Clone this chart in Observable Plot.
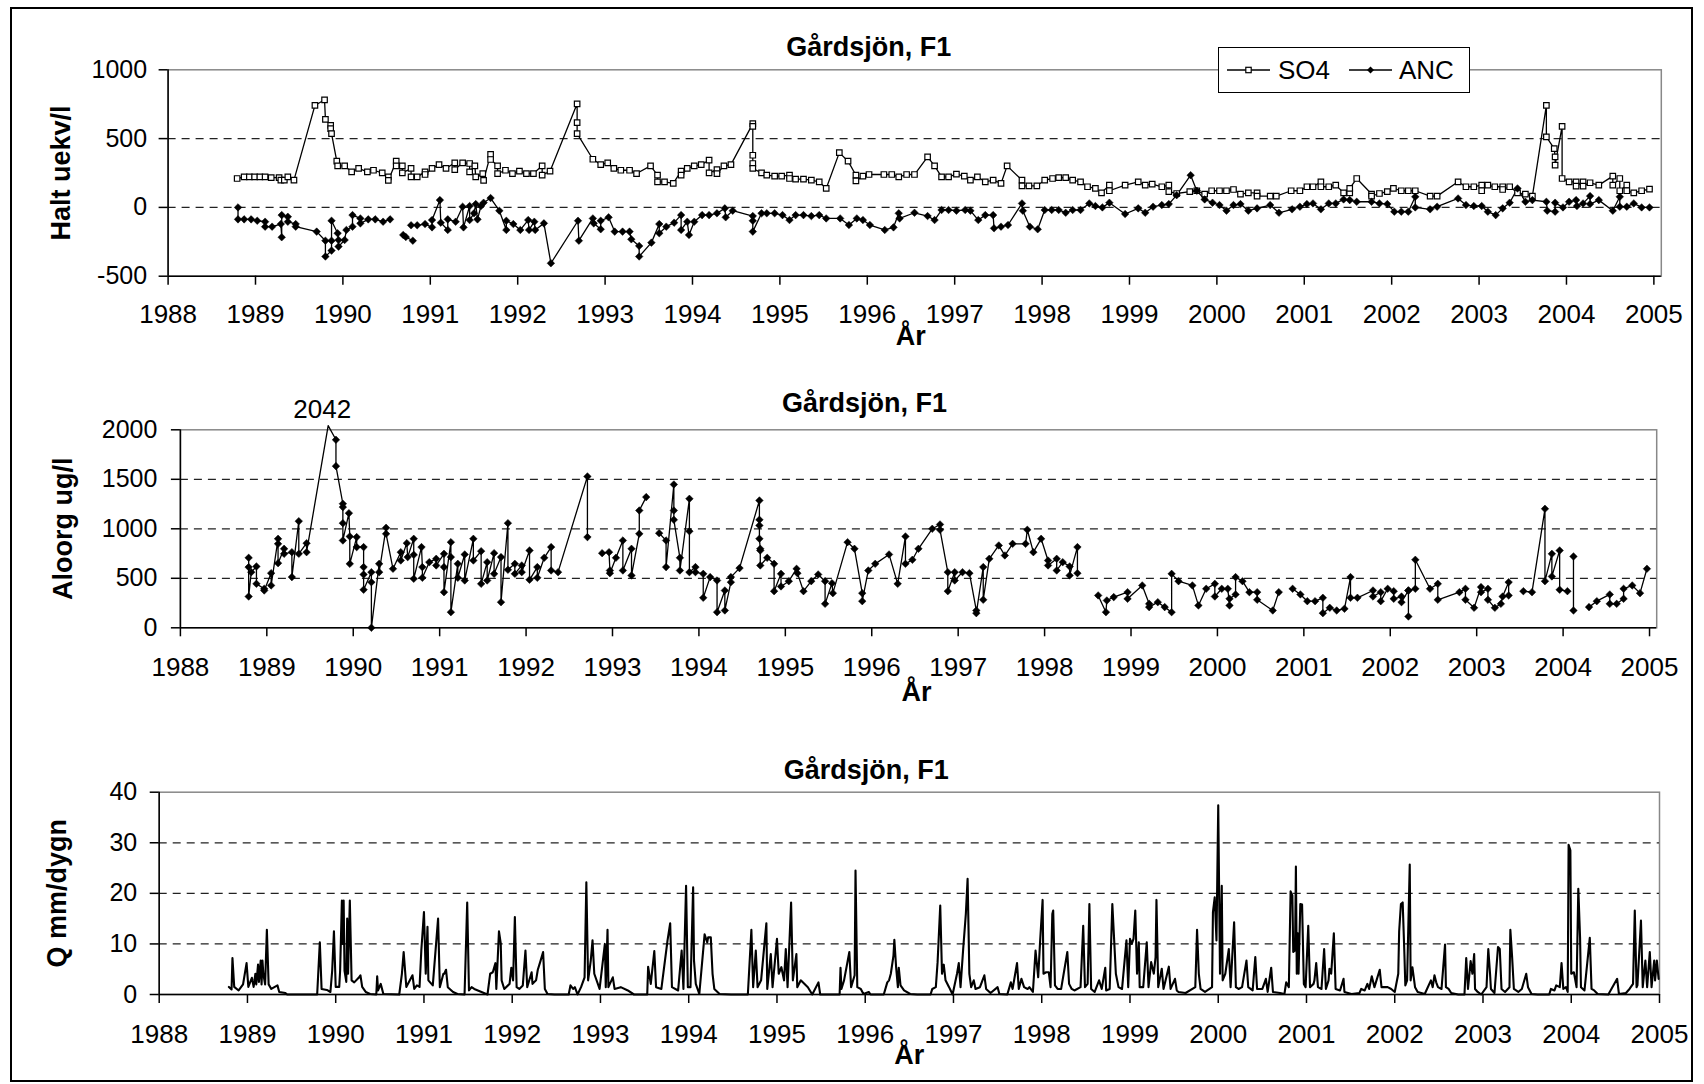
<!DOCTYPE html>
<html><head><meta charset="utf-8">
<script src="https://cdn.jsdelivr.net/npm/d3@7"></script>
<script src="https://cdn.jsdelivr.net/npm/@observablehq/plot@0.6"></script>
<style>
body{margin:0;background:#fff;}
#chart{position:relative;width:1704px;height:1084px;font-family:"Liberation Sans",Arial,sans-serif;background:#fff;overflow:hidden}
#chart svg.panel{position:absolute;left:0;overflow:visible;background:transparent;max-width:none}
#outer{position:absolute;left:10px;top:7px;width:1683px;height:1075px;border:2.5px solid #000;box-sizing:border-box;pointer-events:none}
#legend{position:absolute;left:1218px;top:47px;width:252px;height:46px;border:1.5px solid #000;background:#fff;box-sizing:border-box}
</style></head>
<body>
<div id="chart"><div id="outer"></div></div>
<script>
// ---------- data ----------
const years = d3.range(1988, 2006);
const panelTitle = "Gårdsjön, F1";
const xLabel = "År";
const yLabels = ["Halt uekv/l", "Aloorg ug/l", "Q mm/dygn"];
const legendLabels = ["SO4", "ANC"];
const ticksHalt = [-500, 0, 500, 1000];
const ticksAl = [0, 500, 1000, 1500, 2000];
const ticksQ = [0, 10, 20, 30, 40];

const so4 = [[1988.79,210],[1988.87,222],[1988.93,222],[1988.99,222],[1989.05,222],[1989.11,222],[1989.18,217],[1989.27,217],[1989.29,198],[1989.33,198],[1989.37,222],[1989.44,198],
[1989.68,741],[1989.79,782],[1989.80,640],[1989.86,596],[1989.86,572],[1989.87,536],[1989.93,336],[1989.94,302],[1990.02,302],[1990.10,258],[1990.18,283],[1990.28,258],[1990.35,270],[1990.45,251],[1990.52,222],[1990.52,196],[1990.61,336],[1990.61,302],[1990.68,302],[1990.68,251],[1990.78,283],[1990.78,222],[1990.85,222],[1990.94,258],[1990.94,239],[1991.02,283],[1991.10,311],[1991.18,283],[1991.28,324],[1991.28,275],[1991.37,324],[1991.45,319],[1991.45,258],[1991.51,302],[1991.52,222],[1991.60,246],[1991.61,196],[1991.69,386],[1991.69,348],[1991.77,302],[1991.77,246],[1991.86,270],[1991.94,246],[1992.02,263],[1992.10,246],[1992.18,246],[1992.28,302],[1992.28,234],[1992.37,263],
[1992.68,753],[1992.68,616],[1992.68,536],[1992.86,350],[1992.95,311],[1993.03,324],[1993.10,283],[1993.18,270],[1993.28,270],[1993.36,246],[1993.52,302],[1993.60,234],[1993.60,186],[1993.68,186],[1993.78,174],[1993.87,263],[1993.87,234],[1993.94,283],[1994.02,302],[1994.10,311],[1994.19,343],[1994.19,251],[1994.28,275],[1994.28,246],[1994.36,302],[1994.44,311],
[1994.69,609],[1994.69,589],[1994.69,379],[1994.69,319],[1994.69,283],[1994.79,251],[1994.85,234],[1994.94,227],[1995.02,227],[1995.11,234],[1995.11,210],[1995.18,205],[1995.27,205],[1995.36,198],[1995.45,186],[1995.53,138],[1995.68,398],[1995.78,336],[1995.87,234],[1995.87,193],[1995.95,227],[1996.02,239],[1996.19,239],[1996.28,239],[1996.36,222],[1996.45,239],[1996.54,239],[1996.69,367],[1996.77,302],[1996.85,222],[1996.93,222],[1997.02,242],[1997.11,227],[1997.18,198],[1997.26,222],[1997.35,186],[1997.44,198],[1997.53,174],[1997.60,302],[1997.77,198],[1997.77,157],[1997.85,157],[1997.94,157],[1998.03,198],[1998.12,210],[1998.19,217],[1998.27,217],[1998.35,198],[1998.44,186],[1998.52,150],[1998.61,138],[1998.68,106],[1998.77,162],[1998.77,121],[1998.95,162],[1999.10,186],[1999.18,162],[1999.26,169],[1999.37,150],[1999.45,162],[1999.45,114],[1999.54,101],[1999.69,114],[1999.77,121],[1999.86,97],[1999.94,121],[2000.03,121],[2000.11,121],[2000.19,130],[2000.27,97],[2000.36,106],[2000.46,106],[2000.46,82],[2000.61,82],[2000.68,82],[2000.85,121],[2000.95,121],[2001.03,150],[2001.10,150],[2001.19,186],[2001.19,150],[2001.28,150],[2001.36,162],[2001.45,106],[2001.52,106],[2001.52,138],[2001.60,210],[2001.77,97],[2001.77,82],[2001.86,101],[2001.95,114],[2002.02,138],[2002.11,121],[2002.19,121],[2002.27,121],[2002.44,82],[2002.52,82],[2002.76,186],[2002.85,150],[2002.94,150],[2003.03,162],[2003.03,121],[2003.10,162],[2003.18,150],[2003.27,150],[2003.27,130],[2003.35,150],[2003.44,106],[2003.53,97],[2003.61,82],[2003.77,741],[2003.77,512],[2003.86,427],[2003.87,367],[2003.87,307],[2003.95,589],[2003.95,210],[2004.03,186],[2004.11,186],[2004.11,155],[2004.19,186],[2004.19,155],[2004.27,179],[2004.37,162],[2004.53,227],[2004.53,162],[2004.61,210],[2004.61,121],[2004.69,162],[2004.69,121],[2004.77,106],[2004.86,121],[2004.95,133]];

const anc = [[1988.80,0],[1988.80,-87],[1988.87,-87],[1988.95,-87],[1989.02,-97],[1989.11,-104],[1989.11,-140],[1989.19,-140],[1989.29,-121],[1989.30,-217],[1989.30,-56],[1989.37,-68],[1989.37,-104],[1989.46,-121],[1989.46,-140],[1989.70,-176],[1989.80,-242],[1989.80,-357],[1989.87,-314],[1989.87,-242],[1989.87,-97],[1989.94,-188],[1989.95,-237],[1989.95,-285],[1990.02,-237],[1990.04,-164],[1990.11,-140],[1990.11,-56],[1990.20,-80],[1990.20,-116],[1990.29,-87],[1990.37,-87],[1990.46,-104],[1990.54,-87],null,
[1990.69,-200],[1990.72,-215],[1990.80,-242],null,[1990.78,-130],[1990.85,-130],[1990.94,-121],[1991.02,-145],[1991.02,-92],[1991.11,53],[1991.12,-111],[1991.20,-164],[1991.20,-87],[1991.29,-104],[1991.37,5],[1991.38,-145],[1991.45,10],[1991.45,-92],[1991.50,-43],[1991.52,24],[1991.54,-87],[1991.58,10],[1991.61,34],[1991.69,68],[1991.79,-24],[1991.87,-164],[1991.87,-97],[1991.95,-121],[1992.03,-164],[1992.12,-92],[1992.13,-164],[1992.19,-104],[1992.20,-164],[1992.30,-116],[1992.38,-406],[1992.69,-97],[1992.70,-242],[1992.86,-80],[1992.87,-116],[1992.95,-159],[1992.95,-97],[1993.04,-72],[1993.11,-176],[1993.20,-176],[1993.28,-176],[1993.30,-232],[1993.39,-280],[1993.39,-357],[1993.53,-256],[1993.62,-121],[1993.62,-188],[1993.70,-140],[1993.79,-111],[1993.87,-56],[1993.87,-164],[1993.94,-104],[1993.96,-200],[1994.02,-104],[1994.11,-56],[1994.19,-56],[1994.28,-43],[1994.37,-7],[1994.38,-72],[1994.46,-24],[1994.69,-63],[1994.69,-97],[1994.69,-176],[1994.79,-43],[1994.85,-43],[1994.94,-43],[1995.03,-56],[1995.11,-92],[1995.18,-56],[1995.27,-56],[1995.36,-63],[1995.45,-56],[1995.53,-80],[1995.69,-80],[1995.79,-128],[1995.88,-80],[1995.95,-92],[1996.03,-128],[1996.20,-164],[1996.30,-145],[1996.36,-43],[1996.37,-80],[1996.54,-39],[1996.69,-63],[1996.77,-92],[1996.85,-19],[1996.93,-19],[1997.02,-24],[1997.12,-19],[1997.18,-24],[1997.27,-92],[1997.35,-56],[1997.44,-56],[1997.45,-152],[1997.53,-140],[1997.61,-128],[1997.77,29],[1997.78,-24],[1997.86,-140],[1997.95,-159],[1998.03,-19],[1998.11,-19],[1998.19,-19],[1998.27,-39],[1998.35,-19],[1998.44,-19],[1998.54,29],[1998.61,10],[1998.69,0],[1998.77,34],[1998.95,-48],[1999.10,-7],[1999.18,-39],[1999.27,5],
[1999.37,17],[1999.45,24],[1999.54,89],[1999.70,234],[1999.77,121],[1999.86,58],[1999.95,34],[2000.03,17],[2000.11,-24],[2000.19,17],[2000.27,24],[2000.36,-24],[2000.46,-7],[2000.61,17],[2000.71,-39],[2000.86,-14],[2000.95,5],[2001.03,24],[2001.10,29],[2001.19,-14],[2001.28,29],[2001.36,29],[2001.45,58],[2001.52,53],[2001.60,41],[2001.77,41],[2001.86,29],[2001.95,24],[2002.03,-31],[2002.11,-31],[2002.19,-31],[2002.27,77],[2002.27,0],[2002.44,-14],[2002.52,5],[2002.76,65],[2002.85,17],[2002.94,10],[2003.03,10],[2003.10,-31],[2003.19,-56],[2003.27,-7],[2003.35,34],[2003.44,138],[2003.53,41],[2003.61,53],[2003.77,41],[2003.78,-24],[2003.87,-31],[2003.87,34],[2003.96,0],[2004.03,41],[2004.11,53],[2004.12,10],[2004.19,29],[2004.27,82],[2004.27,24],[2004.37,53],[2004.53,-24],[2004.61,77],[2004.61,5],[2004.69,5],[2004.77,29],[2004.86,0],[2004.95,0]];

const aloorg = [[1988.79,707],[1988.79,613],[1988.79,316],[1988.82,562],[1988.88,620],[1988.88,444],[1988.97,394],[1988.97,377],[1989.05,552],[1989.05,428],[1989.13,899],[1989.13,848],[1989.13,653],[1989.20,798],[1989.20,747],[1989.29,764],[1989.29,512],[1989.37,1077],[1989.37,747],[1989.46,855],[1989.46,764],[1989.71,2042],[1989.80,1899],[1989.80,1633],[1989.88,1253],[1989.88,1219],[1989.88,1057],[1989.88,882],[1989.95,1158],[1989.96,923],[1989.96,646],[1990.04,916],[1990.04,815],[1990.12,815],[1990.12,613],[1990.12,539],[1990.12,384],[1990.21,562],[1990.21,461],[1990.21,0],[1990.30,646],[1990.30,562],[1990.38,1010],[1990.38,949],[1990.46,596],[1990.55,764],[1990.55,680],[1990.62,855],[1990.63,714],[1990.70,899],[1990.70,737],[1990.70,495],[1990.79,815],[1990.80,613],[1990.80,505],[1990.88,663],[1990.96,697],[1990.96,630],[1991.05,747],[1991.05,613],[1991.05,360],[1991.13,865],[1991.13,714],[1991.13,158],[1991.21,646],[1991.21,505],[1991.29,741],[1991.29,478],[1991.39,899],[1991.39,680],[1991.48,774],[1991.48,444],[1991.55,663],[1991.55,478],[1991.63,754],[1991.63,545],[1991.71,714],[1991.71,259],[1991.79,1057],[1991.79,586],[1991.87,646],[1991.87,545],[1991.95,630],[1991.95,562],[1992.04,781],[1992.04,485],[1992.13,613],[1992.13,505],[1992.21,707],[1992.29,815],[1992.29,579],[1992.37,562],
[1992.71,1529],[1992.71,916],null,[1992.88,754],[1992.96,764],[1992.97,579],[1992.97,552],[1993.04,707],[1993.12,882],[1993.12,579],[1993.22,798],[1993.22,529],[1993.31,949],[1993.31,1185],[1993.39,1320],null,[1993.54,956],[1993.62,882],[1993.62,613],[1993.71,1448],[1993.71,1185],[1993.71,1091],[1993.78,707],[1993.78,579],[1993.89,1303],[1993.89,976],[1993.89,562],[1993.96,613],[1993.96,562],[1994.05,545],[1994.05,303],[1994.13,512],[1994.21,478],[1994.21,158],[1994.30,377],[1994.30,175],[1994.37,461],[1994.37,512],[1994.47,603],[1994.70,1286],[1994.70,1091],[1994.70,1034],[1994.70,899],[1994.71,798],[1994.71,781],[1994.71,630],[1994.79,707],[1994.87,646],[1994.87,370],[1994.95,545],[1994.95,418],[1995.04,471],[1995.13,596],[1995.14,552],[1995.21,370],[1995.30,471],[1995.38,539],[1995.46,471],[1995.46,242],[1995.54,451],[1995.55,350],[1995.72,865],[1995.80,798],[1995.89,350],[1995.89,269],[1995.96,579],[1996.04,646],[1996.20,741],[1996.30,444],[1996.39,923],[1996.39,646],[1996.47,687],[1996.54,798],[1996.70,1000],[1996.79,1044],[1996.79,990],[1996.88,562],[1996.88,370],[1996.96,562],[1996.96,478],[1997.05,562],[1997.13,552],[1997.21,175],[1997.21,148],[1997.29,613],[1997.29,283],[1997.36,697],[1997.47,832],[1997.54,731],[1997.63,848],[1997.78,848],[1997.80,990],[1997.87,764],[1997.96,899],[1998.04,680],[1998.04,630],[1998.14,697],[1998.14,579],[1998.21,663],[1998.29,620],[1998.29,529],[1998.38,815],[1998.38,552],null,
[1998.62,327],[1998.71,158],[1998.72,276],[1998.80,310],[1998.96,360],[1998.96,293],[1999.13,428],[1999.21,242],[1999.21,209],[1999.31,259],[1999.39,209],[1999.47,158],[1999.47,545],[1999.55,471],[1999.71,428],[1999.78,226],[1999.87,394],[1999.97,444],[1999.97,316],[2000.05,394],[2000.12,394],[2000.14,226],[2000.14,293],[2000.21,337],[2000.21,512],[2000.29,471],[2000.37,360],[2000.46,360],[2000.46,283],[2000.64,175],[2000.71,360],null,
[2000.87,394],[2000.96,337],[2001.04,269],[2001.13,269],[2001.22,303],[2001.22,148],[2001.30,202],[2001.38,175],[2001.47,192],[2001.54,512],[2001.54,303],[2001.62,303],[2001.80,377],[2001.80,316],[2001.89,360],[2001.89,269],[2001.97,394],[2002.04,370],[2002.04,293],[2002.13,316],[2002.13,259],[2002.21,377],[2002.21,114],[2002.21,377],[2002.29,394],[2002.29,687],[2002.46,394],[2002.55,444],[2002.55,283],[2002.80,360],[2002.87,394],[2002.87,283],[2002.97,202],[2003.05,411],[2003.05,360],[2003.13,394],[2003.13,283],[2003.21,202],[2003.28,242],[2003.30,316],[2003.37,461],[2003.37,327],null,
[2003.54,370],[2003.64,360],[2003.79,1202],[2003.79,471],[2003.87,747],[2003.87,519],[2003.96,781],[2003.96,384],[2004.05,370],null,[2004.12,721],[2004.12,175],null,
[2004.30,209],[2004.39,269],[2004.54,337],[2004.54,242],[2004.62,242],[2004.70,293],[2004.70,394],[2004.80,428],[2004.89,350],[2004.97,596]];

const qFlow = [[1988.79,1.5],[1988.82,1.0],[1988.83,7.2],[1988.85,1.5],[1988.90,0.8],[1988.95,2.0],[1988.99,6.2],[1989.01,1.5],[1989.05,3.3],[1989.07,1.5],[1989.09,4.1],[1989.10,2.0],[1989.12,5.9],[1989.13,2.5],[1989.15,6.7],[1989.16,2.0],[1989.17,6.7],[1989.18,4.1],[1989.20,2.0],[1989.22,12.8],[1989.24,2.0],[1989.27,1.1],[1989.34,1.8],[1989.36,0.5],[1989.43,0.3],[1989.45,0],[1989.79,0],[1989.82,10.3],[1989.84,1.1],[1989.90,0.9],[1989.94,0.5],[1989.96,4.7],[1989.98,12.5],[1990.00,1.5],[1990.04,1.5],[1990.05,4.7],[1990.07,18.6],[1990.08,10],[1990.09,18.6],[1990.10,4.7],[1990.12,2.5],[1990.13,15],[1990.14,4.1],[1990.16,18.6],[1990.18,2.8],[1990.21,2.4],[1990.26,3.3],[1990.28,3.8],[1990.30,1.5],[1990.34,0.5],[1990.39,0.1],[1990.46,0],[1990.47,3.6],[1990.48,0.8],[1990.51,2.1],[1990.54,0.1],[1990.72,0],[1990.75,4.1],[1990.77,8.4],[1990.80,1.5],[1990.87,3.8],[1990.89,1.1],[1990.92,1.8],[1990.95,1.5],[1990.97,8.7],
[1991.00,16.3],[1991.02,4.1],[1991.04,13.4],[1991.05,2.8],[1991.10,1.8],[1991.16,15],[1991.18,1.45],[1991.22,4.1],[1991.23,4.1],[1991.25,4.9],[1991.27,1.45],[1991.33,0.5],[1991.38,0.1],[1991.46,0],[1991.49,18.2],[1991.51,0.8],[1991.54,1.45],[1991.57,1.1],[1991.72,0],[1991.75,4.1],[1991.78,4.4],[1991.81,6.2],[1991.82,1.1],[1991.85,12.5],[1991.87,10.1],[1991.88,2.8],[1991.91,1.1],[1991.97,2.1],[1991.99,5.3],[1992.01,2.8],[1992.03,15.3],[1992.05,1.45],[1992.08,1.1],[1992.12,1.8],[1992.15,8.7],[1992.17,1.45],[1992.22,4.4],[1992.23,2.1],[1992.27,2.8],[1992.29,4.9],[1992.32,6.6],[1992.35,8.4],[1992.37,1.1],[1992.40,0.1],[1992.48,0],[1992.64,0],[1992.66,1.8],[1992.69,1.1],[1992.71,1.45],[1992.74,0],[1992.78,1.45],[1992.82,3.4],[1992.84,22.2],[1992.86,2.8],[1992.89,6.7],[1992.91,10.7],[1992.93,4.1],[1992.99,1.1],[1993.05,10],[1993.06,1.45],[1993.08,12.8],[1993.09,1.45],[1993.14,3.4],[1993.16,1.1],[1993.23,1.45],[1993.31,0.8],[1993.38,0],[1993.53,0],[1993.54,5.5],[1993.57,2.1],[1993.61,8.6],[1993.63,1.45],[1993.69,1.1],[1993.76,10.7],[1993.79,14.1],[1993.81,1.45],[1993.88,0.8],[1993.92,8.7],[1993.94,1.1],[1993.97,21.5],[1993.99,1.45],[1994.02,1.45],[1994.05,21.2],[1994.06,6.7],[1994.08,2.1],[1994.12,0.1],[1994.18,11.9],[1994.21,10.3],[1994.22,11.3],[1994.25,11.3],[1994.27,4.1],[1994.29,1.1],[1994.35,0.1],[1994.48,0],[1994.67,0],[1994.71,12.8],[1994.73,1.45],[1994.76,8.7],[1994.78,1.45],[1994.82,2.8],[1994.88,14.1],[1994.89,1.1],[1994.93,8],[1994.95,1.45],[1995.00,11],[1995.02,4.1],[1995.05,5.4],[1995.08,2.8],[1995.10,9],[1995.12,1.45],[1995.16,18.2],[1995.18,2.8],[1995.22,8],[1995.23,1.45],[1995.27,2.8],[1995.35,1.45],[1995.40,0],[1995.47,2.4],[1995.49,0],[1995.71,0],[1995.72,5.3],[1995.73,1.1],[1995.76,2.8],[1995.82,8.4],[1995.84,1.45],[1995.88,3.8],[1995.89,24.5],[1995.91,1.45],[1995.95,1.1],
[1995.98,0.1],[1996.04,0.5],[1996.06,0],[1996.21,0],[1996.25,2.4],[1996.27,2.8],[1996.29,4.1],[1996.32,7.7],[1996.33,10.8],[1996.35,5.4],[1996.37,1.45],[1996.38,5.3],[1996.40,1.8],[1996.44,0.8],[1996.51,0.1],[1996.59,0],[1996.74,0],[1996.76,1.1],[1996.80,1.45],[1996.82,6.4],[1996.85,17.6],[1996.87,4.1],[1996.89,5.9],[1996.91,2.8],[1996.95,1.45],[1996.99,0],[1997.04,4.1],[1997.06,6.2],[1997.08,1.45],[1997.11,9],[1997.14,15.9],[1997.16,22.9],[1997.18,4.1],[1997.20,1.45],[1997.23,2.8],[1997.25,1.1],[1997.30,1.45],[1997.35,3.8],[1997.37,1.1],[1997.42,0.3],[1997.50,1.45],[1997.52,0.1],[1997.61,0],[1997.65,2.4],[1997.67,1.1],[1997.72,6.2],[1997.74,1.1],[1997.77,3.1],[1997.80,1.45],[1997.84,1.1],[1997.86,1.45],[1997.90,0.5],[1997.93,8.7],[1997.96,3.4],[1997.98,10],[1998.01,18.7],[1998.02,4.1],[1998.05,4.4],[1998.08,4.4],[1998.10,1.45],[1998.12,15.9],[1998.13,16.6],[1998.15,1.8],[1998.18,1.1],[1998.22,1.1],[1998.29,8.4],[1998.31,2.1],[1998.34,1.1],[1998.37,0.8],[1998.44,1.45],[1998.47,13.6],[1998.49,1.45],[1998.52,2.1],[1998.54,17.9],[1998.56,1.1],[1998.60,0.5],[1998.65,2.8],[1998.68,1.1],[1998.72,5.3],[1998.73,0.8],[1998.77,1.1],[1998.80,17.9],[1998.82,11],[1998.84,4.1],[1998.87,1.45],[1998.91,1.1],[1998.96,10.7],[1998.98,1.45],[1999.00,11],[1999.02,10],[1999.04,11],[1999.06,16.6],[1999.08,4.1],[1999.10,10.3],[1999.11,1.45],[1999.15,1.45],[1999.19,10.3],[1999.21,1.45],[1999.24,6.4],[1999.27,4.1],[1999.29,7.4],[1999.30,18.7],[1999.32,1.45],[1999.36,5.1],[1999.38,1.1],[1999.44,5.5],[1999.46,1.1],[1999.51,3.1],[1999.53,0.8],[1999.55,0.5],[1999.63,0.3],[1999.74,1.45],[1999.76,12.8],[1999.78,4.1],[1999.80,1.1],[1999.85,0.5],[1999.93,1.45],[1999.94,16.3],[1999.96,19.2],[1999.98,10.7],[2000.00,37.4],[2000.02,4.1],[2000.04,21.5],[2000.05,2.8],[2000.08,4.1],[2000.12,9],[2000.14,1.45],[2000.18,14.3],[2000.20,1.45],[2000.23,1.1],[2000.27,1.45],[2000.32,6.7],[2000.34,1.45],[2000.39,0.8],[2000.42,7.4],[2000.44,1.1],[2000.50,1.1],[2000.54,3.1],[2000.56,0.5],[2000.60,5.3],[2000.62,0.5],
[2000.70,0.3],[2000.75,0.1],[2000.77,2.4],[2000.80,1.45],[2000.82,20.4],[2000.84,19.6],[2000.85,8.4],[2000.87,8.7],[2000.88,25.3],[2000.89,4.1],[2000.90,12.1],[2000.91,4.1],[2000.93,17.9],[2000.95,17.8],[2000.97,2.1],[2000.99,1.45],[2001.02,13.6],[2001.04,1.45],[2001.08,2.1],[2001.09,2.8],[2001.11,6.2],[2001.13,1.45],[2001.17,1.1],[2001.20,9],[2001.22,1.1],[2001.25,2.8],[2001.26,5.1],[2001.28,4.1],[2001.31,12.1],[2001.33,1.1],[2001.38,0.8],[2001.42,3.1],[2001.43,0.5],[2001.51,0.1],[2001.60,0.3],[2001.62,1.1],[2001.66,0.8],[2001.69,2.1],[2001.71,1.1],[2001.74,3.6],[2001.77,1.45],[2001.83,4.9],[2001.85,1.45],[2001.92,1.45],[2001.96,1.1],[2002.00,0.5],[2002.04,4.1],[2002.05,12.5],[2002.07,17.9],[2002.09,18.2],[2002.11,7.7],[2002.12,1.8],[2002.14,2.8],[2002.17,25.7],[2002.18,2.8],[2002.20,5.4],[2002.23,1.45],[2002.26,0.5],[2002.34,0.1],[2002.41,2.8],[2002.43,1.45],[2002.45,3.8],[2002.47,2.4],[2002.49,1.45],[2002.53,1.1],[2002.57,9.9],[2002.58,1.45],[2002.61,1.1],[2002.64,0.3],[2002.72,0],[2002.79,0],[2002.81,7.2],[2002.83,1.1],[2002.86,6.6],[2002.88,4.1],[2002.90,8],[2002.91,1.1],[2002.94,0.5],[2002.98,0],[2003.04,1.45],[2003.06,9],[2003.08,4.1],[2003.09,1.1],[2003.13,0.3],[2003.17,9.4],[2003.19,9],[2003.21,1.1],[2003.25,0.5],[2003.30,1.45],[2003.31,12.8],[2003.33,7.4],[2003.35,1.1],[2003.40,0.5],[2003.44,1.1],[2003.49,4.1],[2003.51,1.45],[2003.55,0.1],[2003.62,0],[2003.75,0],[2003.77,1.1],[2003.81,0.8],[2003.83,1.8],[2003.87,1.45],[2003.89,6.2],[2003.91,1.1],[2003.94,1.45],[2003.96,0.5],[2003.97,29.6],[2003.99,28.5],[2004.00,4.1],[2004.03,4.4],[2004.06,1.45],[2004.08,20.9],[2004.10,11.2],[2004.11,1.45],[2004.15,0.8],[2004.21,11.2],[2004.23,1.1],[2004.26,0.8],[2004.30,0.1],[2004.42,0],[2004.52,3.1],[2004.54,0.1],[2004.62,0.3],[2004.66,1.1],[2004.70,2.1],[2004.72,16.6],[2004.74,1.45],[2004.75,1.8],[2004.79,14.6],[2004.81,1.45],[2004.84,6.7],[2004.86,1.45],[2004.89,8.4],[2004.91,1.45],[2004.94,6.7],[2004.95,2.8],[2004.97,6.7],[2004.99,3.1]];

// ---------- helpers ----------
const X = d => d ? d[0] : NaN;
const Y = d => d ? d[1] : NaN;
const fmt = d => String(d);
const chart = document.getElementById("chart");

function panel(cfg) {
  const marks = [
    Plot.frame({stroke: "#888", strokeWidth: 1.5}),
    Plot.ruleY(cfg.grid, {stroke: "#222", strokeWidth: 1.2, strokeDasharray: "8,6"}),
    Plot.ruleX([1988], {stroke: "#000", strokeWidth: 1.5}),
    Plot.ruleY([cfg.yDomain[0]], {stroke: "#000", strokeWidth: 1.5}),
    Plot.axisX({ticks: years, tickSize: 9, tickPadding: cfg.xPad, tickFormat: fmt, label: null, strokeWidth: 1.5, fontSize: 26}),
    Plot.axisY({ticks: cfg.yTicks, tickSize: 9, tickPadding: cfg.yPad, tickFormat: fmt, label: null, strokeWidth: 1.5, fontSize: 25}),
    ...cfg.marks,
    Plot.text([panelTitle], {text: d => d, frameAnchor: "top", textAnchor: "middle", lineAnchor: "middle", dx: cfg.titleDx, dy: cfg.titleDy, fontWeight: "bold", fontSize: 27}),
    Plot.text([xLabel], {text: d => d, frameAnchor: "bottom", textAnchor: "middle", lineAnchor: "middle", dx: cfg.arDx, dy: cfg.arDy, fontWeight: "bold", fontSize: 27}),
    Plot.text([cfg.yLabel], {text: d => d, frameAnchor: "left", textAnchor: "middle", lineAnchor: "middle", rotate: -90, dx: cfg.yLabDx, fontWeight: "bold", fontSize: 27})
  ];
  const svg = Plot.plot({
    width: 1704, height: cfg.height,
    marginLeft: cfg.ml, marginRight: cfg.mr, marginTop: cfg.mt, marginBottom: cfg.mb,
    x: {domain: [1988, cfg.xMax]},
    y: {domain: cfg.yDomain},
    style: {fontFamily: '"Liberation Sans", Arial, sans-serif', fontSize: "26px", color: "#000", background: "transparent", overflow: "visible"},
    marks
  });
  svg.classList.add("panel");
  svg.style.top = cfg.top + "px";
  chart.appendChild(svg);
}

// Panel 1: SO4 / ANC
panel({
  top: 0, height: 370, ml: 167.6, mr: 43.2, mt: 69.3, mb: 94.3, xMax: 2005.085,
  yDomain: [-500, 1000], yTicks: ticksHalt, grid: [0, 500], xPad: 19, yPad: 12,
  titleDx: -46, titleDy: -22.6, arDx: -4, arDy: 60, yLabDx: -106.6, yLabel: yLabels[0],
  marks: [
    Plot.line(so4, {x: X, y: Y, stroke: "#000", strokeWidth: 1.3}),
    Plot.line(anc, {x: X, y: Y, stroke: "#000", strokeWidth: 1.3}),
    Plot.dot(so4.filter(d => d), {x: X, y: Y, symbol: "square", r: 3.1, fill: "#fff", stroke: "#000", strokeWidth: 1.2}),
    Plot.dot(anc.filter(d => d), {x: X, y: Y, symbol: "diamond2", r: 3.4, fill: "#000", stroke: "#000", strokeWidth: 0.5})
  ]
});

// Panel 2: Aloorg
panel({
  top: 370, height: 370, ml: 179.9, mr: 47.8, mt: 59.3, mb: 112.7, xMax: 2005.083,
  yDomain: [0, 2000], yTicks: ticksAl, grid: [500, 1000, 1500], xPad: 21, yPad: 14,
  titleDx: -54, titleDy: -26, arDx: -2, arDy: 65, yLabDx: -117, yLabel: yLabels[1],
  marks: [
    Plot.line(aloorg, {x: X, y: Y, stroke: "#000", strokeWidth: 1.3}),
    Plot.dot(aloorg.filter(d => d && d[1] <= 2000), {x: X, y: Y, symbol: "diamond2", r: 3.4, fill: "#000", stroke: "#000", strokeWidth: 0.5}),
    Plot.text(aloorg.filter(d => d && d[1] > 2000), {x: X, y: Y, text: d => String(d[1]), dx: -6, dy: -16, fontSize: 26, lineAnchor: "middle"})
  ]
});

// Panel 3: Q
panel({
  top: 740, height: 344, ml: 158.7, mr: 45, mt: 51.7, mb: 90, xMax: 2005,
  yDomain: [0, 40], yTicks: ticksQ, grid: [10, 20, 30], xPad: 21, yPad: 13,
  titleDx: -43, titleDy: -21.7, arDx: 0, arDy: 61, yLabDx: -101.7, yLabel: yLabels[2],
  marks: [
    Plot.line(qFlow, {x: X, y: Y, stroke: "#000", strokeWidth: 2.1})
  ]
});

// Legend (panel 1)
const lg = document.createElement("div");
lg.id = "legend";
const ns = "http://www.w3.org/2000/svg";
const ls = document.createElementNS(ns, "svg");
ls.setAttribute("width", 249); ls.setAttribute("height", 43);
ls.style.display = "block";
const items = [
  {label: legendLabels[0], x0: 8, sym: "square", tx: 59},
  {label: legendLabels[1], x0: 130, sym: "diamond", tx: 180}
];
for (const it of items) {
  const cy = 22;
  const l = document.createElementNS(ns, "line");
  l.setAttribute("x1", it.x0); l.setAttribute("x2", it.x0 + 43);
  l.setAttribute("y1", cy); l.setAttribute("y2", cy);
  l.setAttribute("stroke", "#000"); l.setAttribute("stroke-width", 1.3);
  ls.appendChild(l);
  const cx = it.x0 + 21.5;
  if (it.sym === "square") {
    const r = document.createElementNS(ns, "rect");
    r.setAttribute("x", cx - 2.7); r.setAttribute("y", cy - 2.7);
    r.setAttribute("width", 5.4); r.setAttribute("height", 5.4);
    r.setAttribute("fill", "#fff"); r.setAttribute("stroke", "#000"); r.setAttribute("stroke-width", 1.2);
    ls.appendChild(r);
  } else {
    const p = document.createElementNS(ns, "path");
    p.setAttribute("d", `M${cx},${cy-3.5}L${cx+3.5},${cy}L${cx},${cy+3.5}L${cx-3.5},${cy}Z`);
    p.setAttribute("fill", "#000");
    ls.appendChild(p);
  }
  const t = document.createElementNS(ns, "text");
  t.setAttribute("x", it.tx); t.setAttribute("y", cy);
  t.setAttribute("dy", "0.35em");
  t.setAttribute("font-size", 26);
  t.setAttribute("font-family", '"Liberation Sans", Arial, sans-serif');
  t.textContent = it.label;
  ls.appendChild(t);
}
lg.appendChild(ls);
chart.appendChild(lg);
</script>
</body></html>
